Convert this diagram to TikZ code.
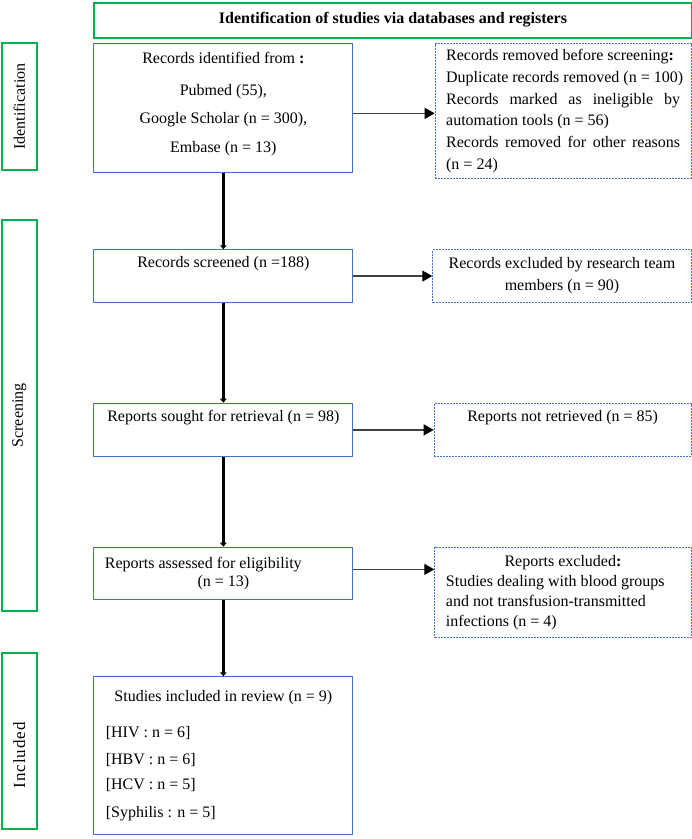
\documentclass[tikz,border=0pt]{standalone}
\usepackage{fontspec}
\setmainfont{Liberation Serif}
\usetikzlibrary{arrows.meta}
\definecolor{prgreen}{HTML}{00B050}
\definecolor{prblue}{HTML}{4472C4}

\begin{document}
\begin{tikzpicture}[x=1pt,y=-1pt,
	every node/.style={font=\fontsize{16}{21.7}\selectfont, inner ysep=2pt},
	secbox/.style={draw=prgreen, line width=2pt},
	blubox/.style={draw=prblue, line width=1.1pt, anchor=north west},
	dashbox/.style={draw=prblue, line width=0.9pt, dash pattern=on 2pt off 1pt, anchor=north west},
	down/.style={line width=3.2pt, -{Triangle[length=4pt,width=6.5pt]}},
	side/.style={draw=black!75, line width=1.2pt, -{Triangle[length=10pt,width=11pt,color=black]}}]
		\useasboundingbox (0,0) rectangle (692,839);
		%title
		\node[secbox, anchor=north west, minimum width=597.4pt, minimum height=34.8pt] (title) at (93.3,1.7) {\textbf{Identification of studies via databases and registers}};
		%sections
		\node[secbox, rotate=90, minimum width=126.7pt, minimum height=35.3pt] (idsec) at (19.35,106.65) {Identification};
		\node[secbox, rotate=90, minimum width=390.7pt, minimum height=35.3pt] (scrsec) at (19.35,415.35) {Screening};
		\node[secbox, rotate=90, minimum width=176pt, minimum height=35.3pt] (incsec) at (19.35,741.3) {{\fontsize{17}{21.7}\selectfont\addfontfeatures{LetterSpace=6}Included}\hspace*{28pt}};
		%main column
		\node[blubox, minimum width=259pt, minimum height=129pt, align=flush center] (rec) at (93.3,43.3) {Records identified from \textbf{:}\\[10.3pt]Pubmed (55),\\[6.3pt]Google Scholar (n = 300),\\[7.3pt]Embase (n = 13)\\[-15.7pt]\strut};
		\node[blubox, minimum width=259pt, minimum height=52.4pt, align=flush center] (scr) at (93.3,249.3) {Records screened (n =188)\\\strut};
		\node[blubox, minimum width=259pt, minimum height=53.3pt, align=flush center] (sou) at (93.3,402.7) {Reports sought for retrieval (n = 98)\\\strut};
		\node[blubox, minimum width=259pt, minimum height=52.3pt, text width=237pt, align=flush left] (asse) at (93.3,546.7) {Reports assessed for eligibility\\[-3.4pt]\makebox[\linewidth]{(n = 13)}};
		\node[blubox, minimum width=259pt, minimum height=158pt, text width=235pt, align=flush left] (incl) at (93.3,676.3) {\makebox[\linewidth]{Studies included in review (n = 9)}\\[14pt][HIV : n = 6]\\[5pt][HBV : n = 6]\\[4pt][HCV : n = 5]\\[6pt][Syphilis : n = 5]};
		%side column
		\node[dashbox, minimum width=256pt, minimum height=134.4pt, text width=234pt, align=flush left] (rem) at (434.7,43.3) {Records removed before screening\textbf{:}\\\mbox{Duplicate records removed (n = 100)}\\\makebox[\linewidth][l]{Records\hfill marked\hfill as\hfill ineligible\hfill by}\\automation tools (n = 56)\\\makebox[\linewidth][l]{Records\hfill removed\hfill for\hfill other\hfill reasons}\\(n = 24)};
		\node[dashbox, minimum width=258.4pt, minimum height=52.4pt, align=flush center] (exc) at (432.3,249.3) {Records excluded by research team\\members (n = 90)};
		\node[dashbox, minimum width=257pt, minimum height=52.4pt, align=flush center] (nre) at (433.7,403.3) {Reports not retrieved (n = 85)\\\strut};
		\node[dashbox, minimum width=256.4pt, minimum height=90.6pt, text width=234pt, align=flush left] (rexc) at (434.3,546.7) {\makebox[\linewidth]{Reports excluded\textbf{:}}\\[-1.5pt]Studies dealing with blood groups\\[-1.5pt]and not transfusion-transmitted\\[-1.5pt]infections (n = 4)};
		%arrows
		\draw[down] (rec) -- (scr);
		\draw[down] (scr) -- (sou);
		\draw[down] (sou) -- (asse);
		\draw[down] (asse) -- (incl);
		\draw[side] ([yshift=-5pt]rec.east) -- ([yshift=-5pt]rec.east -| rem.west);
		\draw[side] (scr.east) -- (scr.east -| exc.west);
		\draw[side] (sou.east) -- (sou.east -| nre.west);
		\draw[side] ([yshift=4pt]asse.east) -- ([yshift=4pt]asse.east -| rexc.west);
	\end{tikzpicture}
\end{document}
